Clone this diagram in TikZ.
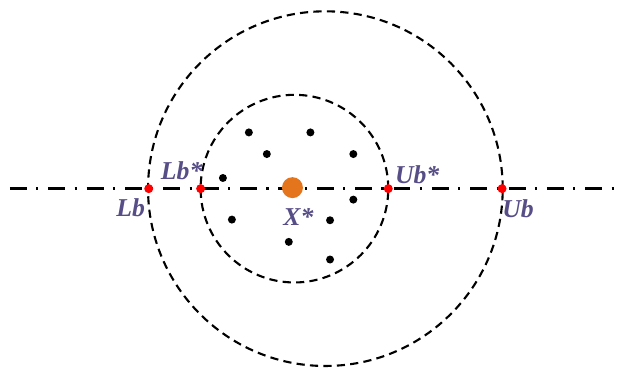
\documentclass[tikz,border=0pt]{standalone}
\usepackage{fontspec}
\setmainfont{Liberation Serif}
\definecolor{labc}{RGB}{88,78,135}
\definecolor{bestc}{RGB}{228,117,28}
\begin{document}
\begin{tikzpicture}[
    sample/.style={circle, fill=black, minimum size=2.4mm, inner sep=0pt},
    bnd/.style={circle, fill=red, minimum size=2.7mm, inner sep=0pt},
    lbl/.style={text=labc, font=\fontsize{22}{26}\selectfont\bfseries\itshape, inner sep=0pt},
    ring/.style={draw, line width=1.8pt, dash pattern=on 7pt off 4.5pt},
    axis/.style={line width=2pt, dash pattern=on 14.5pt off 8pt on 1.8pt off 8.5pt} ]
    % --- search regions ---
    \draw[ring] (9.78, 5.4) circle (5.33);
    \draw[ring] (8.85, 5.4) circle (2.82);

    % --- axis ---
    \coordinate (west) at (0.3, 5.4);
    \coordinate (east) at (18.57, 5.4);
    \draw[axis] (west) -- (east);

    % --- samples ---
    \node[sample] (s1) at (7.48, 7.09) {};
    \node[sample] (s2) at (9.33, 7.09) {};
    \node[sample] (s3) at (8.02, 6.44) {};
    \node[sample] (s4) at (10.62, 6.44) {};
    \node[sample] (s5) at (6.70, 5.72) {};
    \node[sample] (s6) at (10.62, 5.07) {};
    \node[sample] (s7) at (6.97, 4.47) {};
    \node[sample] (s8) at (9.92, 4.45) {};
    \node[sample] (s9) at (8.68, 3.80) {};
    \node[sample] (s10) at (9.92, 3.27) {};

    \node[circle, fill=bestc, minimum size=6.3mm, inner sep=0pt] (best) at (8.79, 5.43) {};

    % --- bounds ---
    \node[bnd] (lb) at (4.47, 5.4) {};
    \node[bnd] (lbs) at (6.03, 5.4) {};
    \node[bnd] (ubs) at (11.67, 5.4) {};
    \node[bnd] (ub) at (15.09, 5.4) {};

    \node[lbl] (lbt) at (3.93, 4.83) {Lb};
    \node[lbl] (lbst) at (5.46, 5.94) {Lb*};
    \node[lbl] (ubst) at (12.54, 5.82) {Ub*};
    \node[lbl] (ubt) at (15.57, 4.80) {Ub};
    \node[lbl] (bestt) at (8.97, 4.56) {X*};

    \useasboundingbox (0, 0) rectangle (18.57, 11.07);
\end{tikzpicture}
\end{document}
